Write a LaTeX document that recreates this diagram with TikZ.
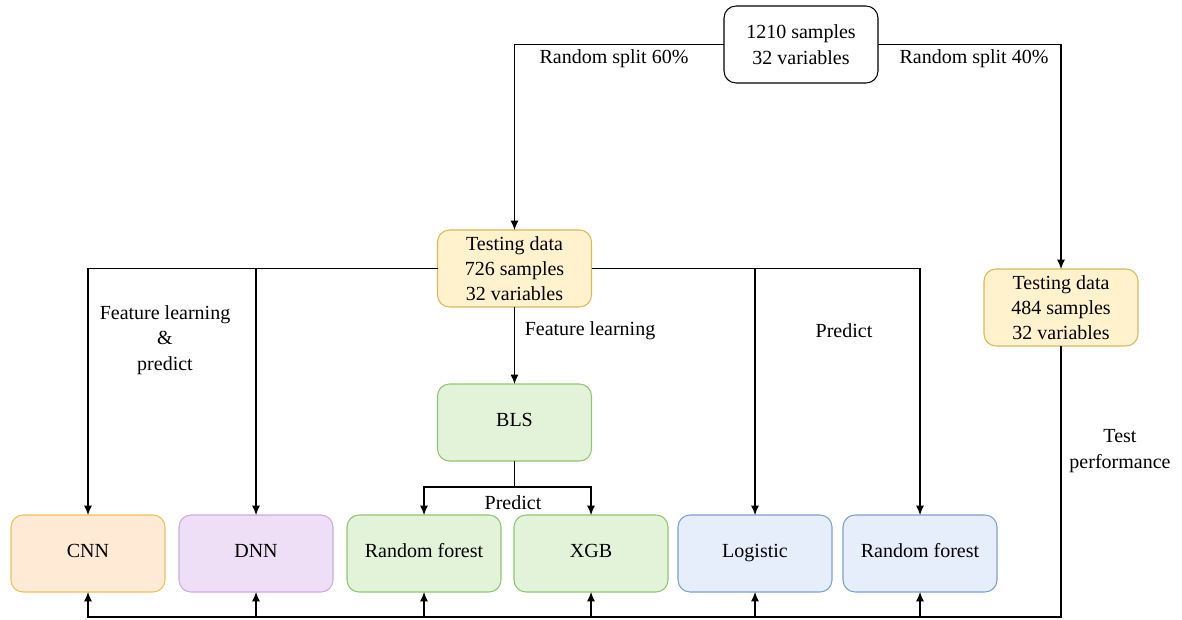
\documentclass[tikz,border=0pt]{standalone}
\usepackage{fontspec}
\setmainfont{Liberation Serif}
\usepackage{tikz}
\usetikzlibrary{positioning}
\usetikzlibrary{arrows.meta}
\definecolor{yfill}{HTML}{FFF2CC}
\definecolor{ydraw}{HTML}{D9B95A}
\definecolor{ofill}{HTML}{FFEAD5}
\definecolor{odraw}{HTML}{EDC05A}
\definecolor{pfill}{HTML}{EEDFF6}
\definecolor{pdraw}{HTML}{CDAADF}
\definecolor{gfill}{HTML}{E2F3DA}
\definecolor{gdraw}{HTML}{92C46E}
\definecolor{bfill}{HTML}{E6EEFB}
\definecolor{bdraw}{HTML}{7C9FD5}

\begin{document}
\begin{tikzpicture}[x=0.75pt, y=-0.75pt, >={Latex[length=7pt,width=6pt]},
    line width=0.8pt,
    every node/.style = {font=\fontsize{15}{19}\selectfont, align=center},
    box/.style = {draw, rounded corners=9pt, minimum width=115.5pt, minimum height=57.75pt, inner sep=0pt, outer sep=0pt},
    solo/.style = {box, text height=1.5ex, text depth=0.1ex},
    lbl/.style = {inner sep=1pt}
    ]
    \useasboundingbox (0,0) rectangle (1182,620);
    \node[box] (all) at (801,44.5) {1210 samples\\32 variables};
    \node[box, fill=yfill, draw=ydraw] (train) at (514.5,268.5) {Testing data\\726 samples\\32 variables};
    \node[box, fill=yfill, draw=ydraw] (test) at (1061,307.5) {Testing data\\484 samples\\32 variables};
    \node[solo, fill=gfill, draw=gdraw] (bls) [below=57.75pt of train] {BLS};
    \node[solo, fill=ofill, draw=odraw] (cnn) at (88,553.5) {CNN};
    \node[solo, fill=pfill, draw=pdraw] (dnn) [right=10.5pt of cnn] {DNN};
    \node[solo, fill=gfill, draw=gdraw] (rf1) [right=10.5pt of dnn] {Random forest};
    \node[solo, fill=gfill, draw=gdraw] (xgb) [right=9.75pt of rf1] {XGB};
    \node[solo, fill=bfill, draw=bdraw] (log) [right=7.5pt of xgb] {Logistic};
    \node[solo, fill=bfill, draw=bdraw] (rf2) [right=8.25pt of log] {Random forest};
    % labels
    \node[lbl] (s60) at (614,59) {Random split 60\%};
    \node[lbl] (s40) at (974,59) {Random split 40\%};
    \node[lbl] (flp) at (165,340) {Feature learning\\\&\\predict};
    \node[lbl] (fl) at (590,331) {Feature learning};
    \node[lbl] (pr) at (844,331) {Predict};
    \node[lbl] (pr2) at (513,503) {Predict};
    \node[lbl] (tp) at (1120,451) {Test\\performance};
    % split
    \draw[->] (all.west) -| (train.north);
    \draw[->] (all.east) -| (test.north);
    \draw[->] (train.west) -| (cnn.north);
    \draw[->] (train.west -| dnn.north) -- (dnn.north);
    \draw[->] (train.east) -| (rf2.north);
    \draw[->] (train.east -| log.north) -- (log.north);
    \draw[->] (train.south) -- (bls.north);
    \coordinate[below=19.5pt of bls.south] (fork);
    \draw (bls.south) -- (fork);
    \draw[->] (fork) -| (rf1.north);
    \draw[->] (fork) -| (xgb.north);
    % test performance
    \coordinate (low) at (1061,617);
    \draw[->] (test.south) -- (low) -| (cnn.south);
    \foreach \m in {dnn, rf1, xgb, log, rf2}
        \draw[->] (\m.south |- low) -- (\m.south);
\end{tikzpicture}
\end{document}
